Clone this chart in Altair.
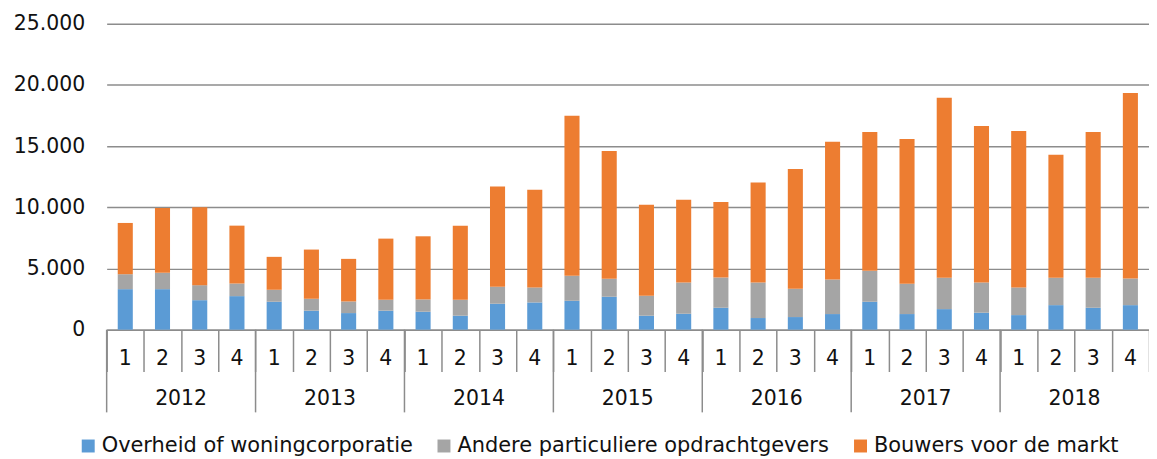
import altair as alt
import pandas as pd

years = ["2012", "2013", "2014", "2015", "2016", "2017", "2018"]
quarters = ["1", "2", "3", "4"]
series = ["Overheid of woningcorporatie", "Andere particuliere opdrachtgevers", "Bouwers voor de markt"]
colors = ["#5B9BD5", "#A5A5A5", "#ED7D31"]

overheid = [3310, 3310, 2410, 2740, 2280, 1550, 1355, 1550, 1465, 1140, 2120, 2225,
            2360, 2690, 1140, 1300, 1790, 950, 1030, 1275, 2280, 1275, 1680, 1385,
            1190, 2005, 1790, 2005]
andere = [1220, 1335, 1225, 1030, 980, 975, 950, 895, 1005, 1305, 1385, 1225,
          2040, 1465, 1630, 2555, 2470, 2905, 2310, 2825, 2530, 2475, 2560, 2470,
          2260, 2235, 2450, 2175]
bouwers = [4190, 5295, 6365, 4730, 2690, 4020, 3480, 4995, 5160, 6055, 8195, 7980,
           13090, 10455, 7440, 6765, 6170, 8175, 9780, 11250, 11350, 11840, 14720, 12795,
           12790, 10050, 11920, 15160]
y_ticks = [0, 5000, 10000, 15000, 20000, 25000]

FONT = "DejaVu Sans"
GRID = "#8c8c8c"
W, H = 1046, 307

keys = [f"{y}-{q}" for y in years for q in quarters]

rows = []
for i, k in enumerate(keys):
    for o, (s, vals) in enumerate(zip(series, [overheid, andere, bouwers])):
        rows.append({"key": k, "series": s, "value": vals[i], "ord": o})
df = pd.DataFrame(rows)

df_q = pd.DataFrame({"key": keys, "quarter": [k.split("-")[1] for k in keys]})
df_ysep = pd.DataFrame({"key": [f"{y}-1" for y in years]})
df_ylab = pd.DataFrame({"key": [f"{y}-3" for y in years], "year": years})

xscale = alt.Scale(paddingInner=0, paddingOuter=0)

bars = alt.Chart(df).mark_bar(width=alt.RelativeBandSize(0.405)).encode(
    x=alt.X("key:N", sort=keys, scale=xscale,
            axis=alt.Axis(labels=False, title=None, tickBand="extent", tickSize=42,
                          tickColor=GRID, tickWidth=1.5, domainColor=GRID,
                          domainWidth=1.5, grid=False)),
    y=alt.Y("value:Q", stack="zero",
            scale=alt.Scale(domain=[0, 25000], nice=False),
            axis=alt.Axis(values=y_ticks, title=None,
                          labelExpr="replace(format(datum.value, ','), ',', '.')",
                          labelFont=FONT, labelFontSize=20.5, labelColor="#111",
                          labelPadding=22, ticks=False, domain=False,
                          gridColor=GRID, gridWidth=1.5)),
    color=alt.Color("series:N", sort=series,
                    scale=alt.Scale(domain=series, range=colors),
                    legend=alt.Legend(title=None, orient="none", legendX=-29, legendY=413,
                                      direction="horizontal", symbolType="square",
                                      symbolSize=169, symbolStrokeWidth=0,
                                      labelFont=FONT, labelFontSize=21, labelColor="#111",
                                      labelOffset=3, columnPadding=20, labelLimit=600)),
    order=alt.Order("ord:Q", sort="ascending"),
)

qlabels = alt.Chart(df_q).mark_text(font=FONT, fontSize=20.5, baseline="middle",
                                    color="#111").encode(
    x=alt.X("key:N", sort=keys),
    y=alt.value(336),
    text="quarter:N",
)

ysep = alt.Chart(df_ysep).mark_rule(color=GRID, strokeWidth=1.5).encode(
    x=alt.X("key:N", sort=keys, bandPosition=0),
    y=alt.value(H),
    y2=alt.value(H + 83),
)

ylabels = alt.Chart(df_ylab).mark_text(font=FONT, fontSize=20.5, baseline="middle",
                                       color="#111").encode(
    x=alt.X("key:N", sort=keys, bandPosition=0),
    y=alt.value(H + 70),
    text="year:N",
)

chart = alt.layer(bars, ysep, qlabels, ylabels).properties(
    width=W, height=H,
    autosize=alt.AutoSizeParams(type="none"),
    padding={"left": 99, "top": 15, "right": 0, "bottom": 128},
).configure_view(stroke=None)

chart.save("out.html", embed_options={"renderer": "svg", "actions": False})
